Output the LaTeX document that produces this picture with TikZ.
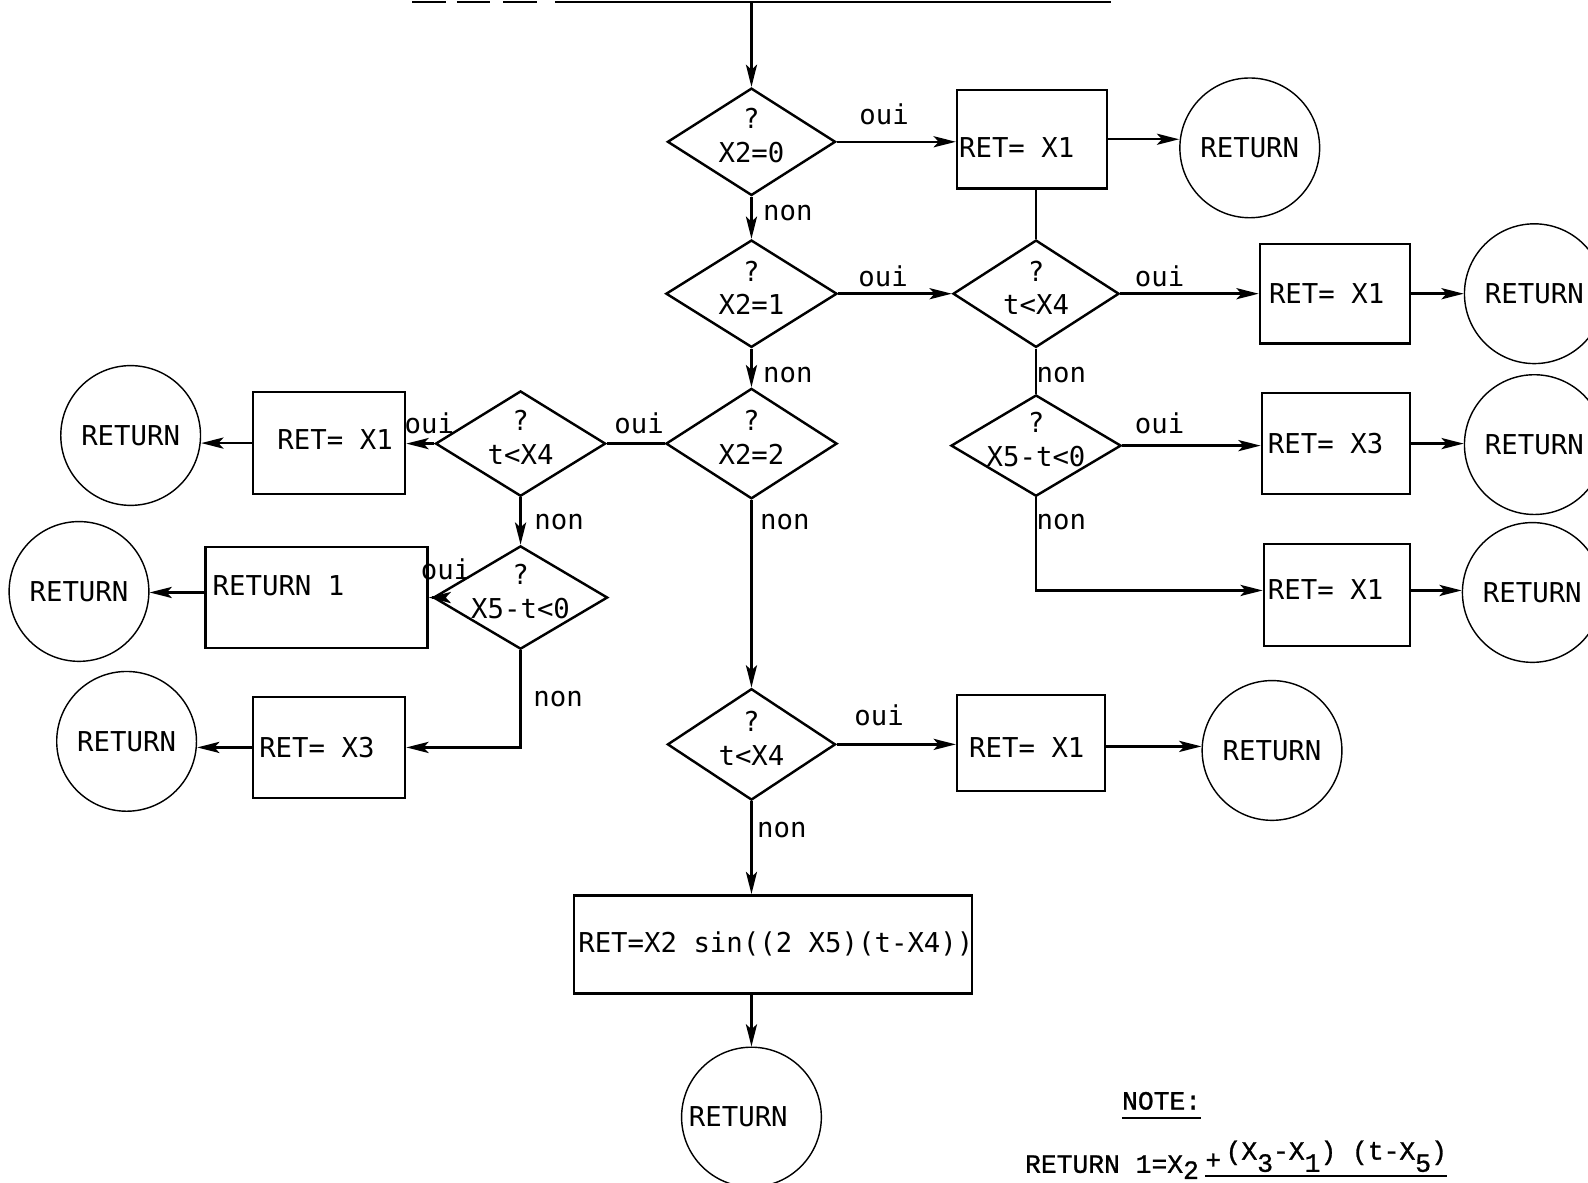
\documentclass[tikz,border=0pt]{standalone}
\usepackage{fontspec}
\usetikzlibrary{shapes.geometric,arrows.meta}
\newfontfamily\dfont{DejaVu Sans Mono}
\newfontfamily\nfont[FakeBold=1]{Liberation Mono}
\begin{document}
\begin{tikzpicture}[x=1pt,y=-1pt,
 every node/.append style={font=\dfont\fontsize{27}{33}\selectfont},
 ln/.style={line width=2.4pt},
 arr/.style={ln,-{Stealth[length=22pt,width=11pt,inset=5pt]}},
 dia/.style={draw,ln,shape=diamond,minimum width=166pt,minimum height=106pt,inner sep=0pt},
 dl/.style={align=center,inner sep=0pt,yshift=6pt},
 box/.style={draw,ln,rectangle,inner sep=0pt},
 bl/.style={inner sep=0pt,anchor=west},
 circ/.style={draw,circle,line width=1.4pt,minimum size=138pt,inner sep=0pt},
 lab/.style={inner sep=0pt},
 nf/.style={font=\nfont\fontsize{26}{31}\selectfont,inner sep=0pt},
]
\useasboundingbox (0,0) rectangle (1568,1168);
\fill[white] (0,0) rectangle (1568,1168);
\clip (0,0) rectangle (1568,1168);

% top broken line
\draw[ln] (407,2) -- (440,2);
\draw[ln] (451,2) -- (484,2);
\draw[ln] (497,2) -- (530,2);
\draw[ln] (548,2) -- (1097,2);
\coordinate (top) at (742,2);

% diamonds
\node[dia,label={[dl]center:{?\\X2=0}}] (d1) at (742,140) {};
\node[dia,minimum width=169pt,label={[dl]center:{?\\X2=1}}] (d2) at (742,290) {};
\node[dia,minimum width=169pt,minimum height=109pt,label={[dl]center:{?\\X2=2}}] (d3) at (742,438) {};
\node[dia,minimum width=164pt,label={[dl]center:{?\\t<X4}}] (d4) at (1023,290) {};
\node[dia,minimum width=168pt,minimum height=100pt,label={[dl]center:{?\\X5-t<0}}] (d5) at (1023,440) {};
\node[dia,minimum height=110pt,label={[dl]center:{?\\t<X4}}] (d6) at (742,735) {};
\node[dia,minimum width=168pt,minimum height=104pt,label={[dl]center:{?\\t<X4}}] (d7) at (514,438) {};
\node[dia,minimum width=172pt,minimum height=102pt,label={[dl]center:{?\\X5-t<0}}] (d8) at (514,590) {};

% boxes
\node[box,minimum width=148pt,minimum height=97pt,label={[bl,xshift=3pt,yshift=-8pt]west:{RET= X1}}] (b1) at (1019,137.5) {};
\node[box,minimum width=148pt,minimum height=98pt,label={[bl,xshift=10pt]west:{RET= X1}}] (b4) at (1318,290) {};
\node[box,minimum width=146pt,minimum height=100pt,label={[bl,xshift=7pt]west:{RET= X3}}] (b5) at (1319,438) {};
\node[box,minimum width=144pt,minimum height=101pt,label={[bl,xshift=5pt,yshift=5pt]west:{RET= X1}}] (b6) at (1320,587.5) {};
\node[box,minimum width=150pt,minimum height=101pt,label={[bl,xshift=25pt,yshift=4pt]west:{RET= X1}}] (b7) at (325,437.5) {};
\node[box,minimum width=219pt,minimum height=100pt,label={[bl,xshift=8pt,yshift=12pt]west:{RETURN 1}}] (b8) at (312.5,590) {};
\node[box,minimum width=150pt,minimum height=100pt,label={[bl,xshift=7pt]west:{RET= X3}}] (b9) at (325,738) {};
\node[box,minimum width=146pt,minimum height=95pt,label={[bl,xshift=13pt,yshift=-5pt]west:{RET= X1}}] (b10) at (1018,733.5) {};
\node[box,minimum width=393pt,minimum height=97pt,label={[bl,xshift=5pt]west:{RET=X2 sin((2 X5)(t-X4))}}] (b11) at (763.5,932.5) {};

% terminal circles
\node[circ] (c1) at (1234,146) {RETURN};
\node[circ] (c4) at (1515,290) {RETURN};
\node[circ] (c5) at (1515,439) {RETURN};
\node[circ] (c6) at (1513,585) {RETURN};
\node[circ] (c7) at (129,430) {RETURN};
\node[circ] (c8) at (78,584) {RETURN};
\node[circ] (c9) at (125,732) {RETURN};
\node[circ] (c10) at (1256,741) {RETURN};
\node[circ] (c11) at (742,1103) {\hspace*{-26pt}RETURN};

% connectors
\draw[arr] (top) -- (d1.north);
\draw[arr] (d1.east) -- (b1.west |- d1.east);
\draw[arr] (b1.east) -- (c1.west |- b1.east);
\draw[ln] (d4.north |- b1.south) -- (d4.north);
\draw[arr] (d1.south) -- (d2.north);
\draw[arr] (d2.east) -- (d4.west);
\draw[arr] (d4.east) -- (b4.west |- d4.east);
\draw[arr] (b4.east) -- (c4.west |- b4.east);
\draw[ln] (d4.south) -- (d5.north);
\draw[arr] (d5.east) -- (b5.west |- d5.east);
\draw[arr] (b5.east) -- (c5.west |- b5.east);
\draw[arr] (d5.south) |- (b6.west |- 0,583);
\draw[arr] (b6.east |- 0,583) -- (c6.west |- 0,583);
\draw[arr] (d2.south) -- (d3.north);
\draw[ln] (d3.west) -- (d7.east);
\draw[arr] (d7.west) -- (b7.east |- d7.west);
\draw[arr] (b7.west) -- (c7.east |- b7.west);
\draw[arr] (d7.south) -- (d8.north);
\draw[arr] (d8.west) -- (b8.east |- d8.west);
\draw[arr] (b8.west |- 0,585) -- (c8.east |- 0,585);
\draw[arr] (d8.south) |- (b9.east);
\draw[arr] (b9.west) -- (c9.east |- b9.west);
\draw[arr] (d3.south) -- (d6.north);
\draw[arr] (d6.east) -- (b10.west |- d6.east);
\draw[arr] (b10.east |- 0,737) -- (c10.west |- 0,737);
\draw[arr] (d6.south) -- (b11.north -| d6.south);
\draw[arr] (b11.south -| c11.north) -- (c11.north);

% branch labels
\node[lab] (o1) at (873,113) {oui};
\node[lab] (n1) at (778,210) {non};
\node[lab] (o2) at (872,273) {oui};
\node[lab] (o3) at (1145,273) {oui};
\node[lab] (n2) at (778,370) {non};
\node[lab] (n3) at (1048,370) {non};
\node[lab] (o4) at (1145,418) {oui};
\node[lab] (o5) at (631,418) {oui};
\node[lab] (o6) at (424,418) {oui};
\node[lab] (n4) at (775,515) {non};
\node[lab] (n5) at (552,515) {non};
\node[lab] (n6) at (1048,515) {non};
\node[lab] (o7) at (440,562) {oui};
\node[lab] (n7) at (551,690) {non};
\node[lab] (o8) at (868,706) {oui};
\node[lab] (n8) at (772,820) {non};

% note
\node[nf] (note) at (1147,1087) {NOTE:};
\draw[line width=1.8pt] (note.south west) ++(0,8) -- ++(78,0);
\node[nf,anchor=base west] (f1) at (1012,1158) {RETURN 1=X\raisebox{-6pt}{2}};
\node[nf,anchor=base west] (f2) at (1190,1154) {+};
\node[nf,anchor=base west] (f3) at (1210,1145) {(X\raisebox{-12pt}{3}-X\raisebox{-12pt}{1}) (t-X\raisebox{-12pt}{5})};
\draw[line width=1.8pt] (f2.west |- 0,1161) -- (f3.east |- 0,1161);
\end{tikzpicture}
\end{document}
